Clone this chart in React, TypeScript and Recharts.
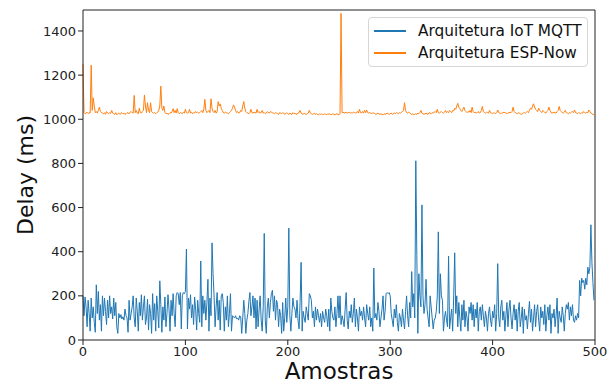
import { LineChart, Line, XAxis, YAxis, ReferenceLine, Label } from 'recharts';

const mqttDelay = [
  200, 110, 195, 150, 60, 180, 120, 40, 190, 100, 150, 80, 35, 250, 120, 220, 90, 160, 40, 200,
  110, 190, 130, 70, 180, 100, 200, 120, 150, 95, 190, 110, 170, 60, 30, 120, 100, 115, 95, 105,
  90, 140, 110, 100, 35, 180, 90, 120, 150, 200, 100, 60, 190, 130, 40, 170, 110, 205, 90, 150,
  200, 70, 100, 185, 45, 160, 120, 30, 210, 90, 165, 40, 200, 130, 55, 268, 160, 35, 150, 90,
  195, 60, 120, 205, 140, 40, 180, 110, 210, 120, 60, 200, 215, 210, 160, 215, 50, 200, 215, 210,
  220, 412, 50, 190, 140, 205, 100, 160, 70, 195, 140, 45, 180, 120, 80, 358, 60, 200, 120, 180,
  90, 170, 275, 40, 190, 110, 440, 300, 200, 60, 150, 215, 90, 180, 45, 200, 210, 170, 40, 150,
  90, 200, 60, 120, 210, 40, 110, 105, 100, 110, 95, 100, 90, 110, 105, 30, 100, 180, 120, 30,
  90, 120, 175, 215, 110, 150, 200, 100, 190, 50, 180, 60, 140, 200, 90, 40, 150, 483, 90, 30,
  150, 190, 100, 170, 210, 225, 130, 200, 90, 180, 160, 60, 140, 110, 30, 170, 40, 100, 190, 80,
  150, 507, 110, 40, 120, 190, 150, 140, 100, 180, 90, 50, 170, 352, 40, 130, 100, 80, 150, 120,
  90, 210, 200, 180, 100, 130, 60, 150, 90, 140, 110, 80, 120, 60, 130, 100, 80, 140, 110, 60,
  140, 40, 190, 130, 100, 90, 150, 60, 120, 200, 100, 200, 70, 110, 90, 60, 140, 215, 90, 50,
  130, 100, 160, 80, 120, 190, 60, 140, 100, 40, 150, 110, 130, 90, 150, 100, 60, 160, 120, 90,
  150, 60, 100, 40, 326, 100, 120, 90, 170, 130, 60, 100, 140, 200, 90, 130, 210, 215, 210, 215,
  200, 120, 90, 60, 140, 100, 160, 80, 40, 120, 100, 60, 140, 90, 50, 130, 200, 110, 60, 170,
  100, 310, 150, 210, 100, 812, 384, 30, 300, 200, 150, 612, 200, 120, 160, 275, 140, 100, 60, 200,
  150, 100, 50, 90, 100, 130, 200, 490, 120, 300, 200, 180, 40, 100, 130, 90, 60, 380, 50, 100,
  140, 40, 200, 395, 120, 200, 60, 170, 100, 40, 160, 90, 180, 60, 130, 100, 40, 150, 120, 170,
  90, 160, 60, 140, 100, 170, 40, 130, 150, 90, 160, 110, 60, 130, 100, 40, 120, 150, 90, 60,
  130, 100, 160, 40, 120, 346, 100, 60, 150, 180, 90, 130, 40, 110, 170, 60, 140, 180, 100, 50,
  120, 160, 90, 140, 40, 130, 170, 60, 100, 150, 30, 140, 90, 110, 50, 120, 175, 80, 140, 40,
  100, 160, 60, 130, 160, 90, 40, 150, 100, 130, 70, 160, 40, 110, 150, 90, 160, 30, 120, 100,
  140, 60, 110, 190, 30, 130, 100, 80, 150, 110, 40, 120, 160, 140, 170, 90, 150, 110, 160, 90,
  80, 110, 90, 120, 100, 270, 200, 280, 260, 270, 230, 280, 250, 330, 300, 330, 522, 350, 260, 180,
];

const espNowDelay = [
  1250, 1030, 1025, 1028, 1032, 1026, 1030, 1028, 1245, 1040, 1097, 1060, 1030, 1035, 1028, 1040, 1055, 1035, 1030, 1028,
  1025, 1030, 1022, 1035, 1028, 1025, 1030, 1026, 1040, 1028, 1025, 1022, 1030, 1020, 1025, 1028, 1022, 1026, 1030, 1025,
  1028, 1022, 1025, 1030, 1028, 1025, 1032, 1035, 1030, 1028, 1108, 1030, 1040, 1028, 1025, 1050, 1030, 1028, 1035, 1040,
  1110, 1060, 1030, 1075, 1040, 1030, 1075, 1035, 1030, 1028, 1030, 1025, 1030, 1032, 1040, 1060, 1150, 1050, 1040, 1060,
  1030, 1025, 1028, 1022, 1025, 1030, 1028, 1035, 1048, 1030, 1040, 1028, 1048, 1030, 1025, 1030, 1028, 1025, 1032, 1028,
  1045, 1030, 1028, 1030, 1045, 1028, 1032, 1025, 1030, 1028, 1035, 1030, 1032, 1028, 1030, 1035, 1040, 1030, 1045, 1090,
  1040, 1030, 1035, 1040, 1030, 1093, 1050, 1035, 1030, 1040, 1028, 1035, 1080, 1060, 1070, 1050, 1040, 1030, 1028, 1032,
  1030, 1028, 1025, 1030, 1035, 1040, 1050, 1065, 1055, 1040, 1030, 1035, 1028, 1030, 1040, 1035, 1060, 1080, 1050, 1035,
  1030, 1028, 1025, 1030, 1045, 1030, 1028, 1032, 1030, 1028, 1045, 1030, 1035, 1028, 1030, 1040, 1028, 1030, 1025, 1028,
  1035, 1030, 1028, 1035, 1032, 1030, 1028, 1025, 1030, 1028, 1025, 1022, 1030, 1028, 1025, 1030, 1028, 1022, 1025, 1030,
  1025, 1022, 1028, 1025, 1022, 1030, 1025, 1028, 1022, 1025, 1028, 1030, 1040, 1028, 1025, 1022, 1028, 1025, 1022, 1025,
  1028, 1040, 1028, 1025, 1022, 1025, 1028, 1022, 1025, 1022, 1020, 1025, 1022, 1025, 1020, 1022, 1025, 1022, 1020, 1025,
  1022, 1025, 1020, 1022, 1025, 1022, 1020, 1022, 1025, 1022, 1020, 1025, 1480, 1030, 1032, 1028, 1030, 1032, 1028, 1030,
  1032, 1028, 1030, 1028, 1032, 1030, 1028, 1030, 1035, 1028, 1045, 1030, 1028, 1035, 1028, 1040, 1030, 1042, 1030, 1028,
  1030, 1028, 1025, 1030, 1028, 1025, 1022, 1025, 1028, 1025, 1022, 1025, 1022, 1020, 1025, 1022, 1025, 1028, 1025, 1022,
  1025, 1028, 1022, 1025, 1028, 1025, 1030, 1028, 1025, 1030, 1028, 1032, 1035, 1040, 1075, 1040, 1030, 1028, 1032, 1030,
  1025, 1022, 1025, 1020, 1022, 1025, 1022, 1028, 1025, 1030, 1040, 1028, 1025, 1022, 1025, 1028, 1025, 1022, 1030, 1028,
  1025, 1030, 1028, 1032, 1035, 1030, 1045, 1030, 1028, 1032, 1035, 1030, 1028, 1032, 1040, 1030, 1035, 1030, 1040, 1035,
  1030, 1040, 1038, 1050, 1045, 1060, 1072, 1055, 1048, 1040, 1035, 1045, 1055, 1040, 1035, 1030, 1035, 1032, 1040, 1030,
  1055, 1035, 1030, 1032, 1028, 1030, 1035, 1028, 1030, 1040, 1058, 1035, 1030, 1028, 1032, 1030, 1028, 1040, 1030, 1028,
  1025, 1030, 1028, 1025, 1030, 1042, 1030, 1028, 1025, 1030, 1028, 1032, 1030, 1028, 1025, 1030, 1028, 1032, 1030, 1035,
  1055, 1035, 1030, 1028, 1025, 1030, 1028, 1025, 1022, 1025, 1028, 1030, 1028, 1032, 1035, 1030, 1040, 1050, 1045, 1060,
  1070, 1055, 1045, 1040, 1035, 1050, 1040, 1035, 1030, 1040, 1035, 1030, 1028, 1035, 1040, 1055, 1040, 1030, 1028, 1030,
  1032, 1030, 1028, 1035, 1040, 1058, 1040, 1035, 1030, 1028, 1032, 1040, 1030, 1028, 1025, 1030, 1028, 1032, 1035, 1030,
  1042, 1030, 1028, 1025, 1030, 1028, 1025, 1030, 1028, 1035, 1030, 1028, 1032, 1030, 1042, 1035, 1028, 1025, 1022, 1020,
];

const xTicks = [0, 100, 200, 300, 400, 500];
const yTicks = [0, 200, 400, 600, 800, 1000, 1200, 1400];

const series = [
  { key: 'mqtt', name: 'Arquitetura IoT MQTT', color: '#1f77b4' },
  { key: 'espnow', name: 'Arquitetura ESP-Now', color: '#ff7f0e' },
];

const font = 'DejaVu Sans, sans-serif';

function LegendBox() {
  return (
    <div
      style={{
        position: 'absolute',
        left: 368,
        top: 17,
        width: 220,
        height: 50,
        boxSizing: 'border-box',
        border: '1px solid #d6d6d6',
        borderRadius: 4,
        background: 'rgba(255,255,255,0.8)',
        fontFamily: font,
        fontSize: 15.3,
        color: '#111',
        paddingTop: 2,
      }}
    >
      {series.map((s) => (
        <div key={s.key} style={{ display: 'flex', alignItems: 'center', height: 22, whiteSpace: 'nowrap' }}>
          <span style={{ display: 'inline-block', width: 32, height: 1.5, background: s.color, marginLeft: 5, marginRight: 12 }} />
          <span>{s.name}</span>
        </div>
      ))}
    </div>
  );
}

export default function App() {
  const rows = mqttDelay.map((v, i) => ({ x: i, mqtt: v, espnow: espNowDelay[i] }));

  return (
    <div style={{ position: 'fixed', left: 0, top: 0, width: 609, height: 383, background: '#fff' }}>
      <LineChart width={609} height={383} data={rows} margin={{ top: 10, right: 14, bottom: 0, left: 0 }}>
        <XAxis
          dataKey="x"
          type="number"
          domain={[0, 500]}
          ticks={xTicks}
          height={43}
          tickSize={5}
          stroke="#222"
          tick={{ fill: '#222', fontSize: 13, fontFamily: font }}
        >
          <Label value="Amostras" position="insideBottom" offset={4} style={{ fontSize: 23, fontFamily: font, fill: '#111' }} />
        </XAxis>
        <YAxis
          type="number"
          domain={[0, 1495]}
          ticks={yTicks}
          width={83}
          tickSize={5}
          stroke="#222"
          tick={{ fill: '#222', fontSize: 13, fontFamily: font }}
          allowDataOverflow
        >
          <Label value="Delay (ms)" angle={-90} position="insideLeft" offset={25} style={{ fontSize: 22, fontFamily: font, fill: '#111', textAnchor: 'middle' }} />
        </YAxis>
        <ReferenceLine y={1495} stroke="#222" />
        <ReferenceLine x={500} stroke="#222" />
        {series.map((s) => (
          <Line
            key={s.key}
            dataKey={s.key}
            name={s.name}
            stroke={s.color}
            strokeWidth={1}
            dot={false}
            isAnimationActive={false}
          />
        ))}
      </LineChart>
      <LegendBox />
    </div>
  );
}
